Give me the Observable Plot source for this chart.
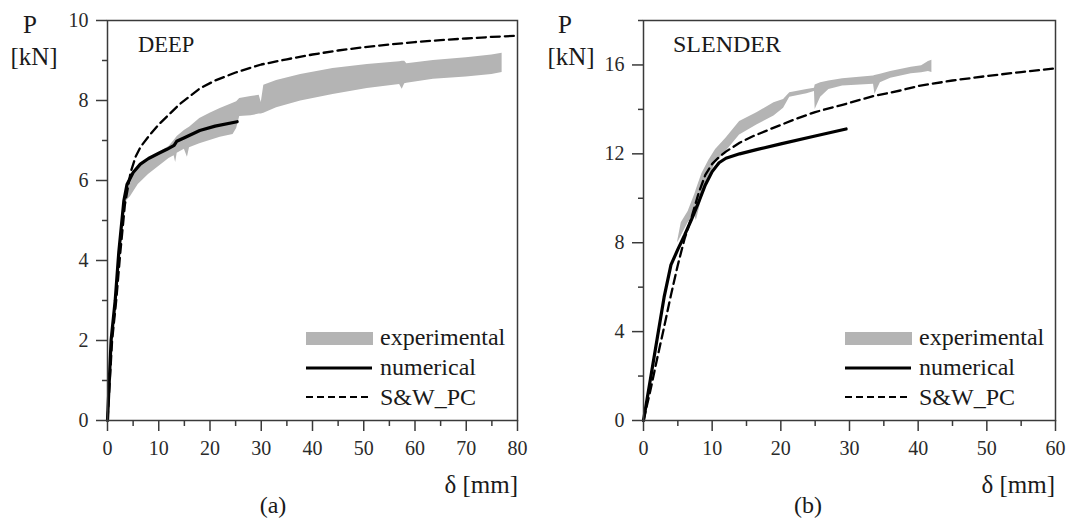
<!DOCTYPE html>
<html>
<head>
<meta charset="utf-8">
<script src="https://cdn.jsdelivr.net/npm/d3@7"></script>
<script src="https://cdn.jsdelivr.net/npm/@observablehq/plot@0.6"></script>
<style>
  html, body { margin: 0; padding: 0; background: #fff; }
  #wrap { position: relative; width: 1071px; height: 522px; overflow: hidden; }
  #wrap > .p { position: absolute; top: 0; }
  #overlay { position: absolute; left: 0; top: 0; pointer-events: none; }
</style>
</head>
<body>
<div id="wrap"></div>
<script>
// ---------- DATA ----------
// Panel (a) DEEP
const deepExpX  = [0, 0.7, 1.5, 2.2, 3.2, 3.8, 4.5, 6, 8, 10, 12, 13, 13.3, 13.6, 15, 15.6, 16, 18, 20, 22, 24.5, 25.2, 25.8, 28, 29.6, 30, 30.5, 33, 37.7, 44, 50.7, 57, 57.5, 58, 58.4, 63.6, 70, 75, 77];
const deepExpLo = [0, 1.9, 2.9, 4.1, 5.35, 5.5, 5.6, 5.9, 6.15, 6.35, 6.55, 6.62, 6.45, 6.68, 6.78, 6.58, 6.82, 6.92, 7.0, 7.08, 7.15, 7.3, 7.6, 7.62, 7.66, 7.66, 7.68, 7.82, 7.99, 8.15, 8.3, 8.4, 8.28, 8.42, 8.43, 8.53, 8.59, 8.65, 8.7];
const deepExpHi = [0, 2.05, 3.1, 4.3, 5.55, 5.9, 6.1, 6.35, 6.52, 6.7, 6.85, 7.0, 7.05, 7.1, 7.25, 7.3, 7.33, 7.55, 7.68, 7.8, 7.93, 7.97, 8.05, 8.1, 8.13, 7.95, 8.38, 8.5, 8.65, 8.8, 8.9, 8.97, 8.98, 8.98, 8.92, 9.0, 9.07, 9.14, 9.18];
const deepNumX  = [0, 0.7, 1.5, 2.2, 3.2, 3.8, 5, 6.4, 8, 10, 11.6, 13, 13.5, 15, 18, 21, 25.3];
const deepNumP  = [0, 2.0, 3.0, 4.2, 5.5, 5.9, 6.2, 6.41, 6.55, 6.68, 6.78, 6.88, 6.98, 7.07, 7.25, 7.36, 7.47];
const deepSwX   = [0, 0.9, 1.7, 2.5, 3.4, 4.5, 5.5, 6.5, 8, 10, 12, 14, 16, 18, 21, 25, 30, 35, 40, 45, 50, 55, 60, 65, 70, 75, 80];
const deepSwP   = [0, 2.0, 3.0, 4.2, 5.4, 6.2, 6.6, 6.85, 7.1, 7.4, 7.65, 7.9, 8.1, 8.3, 8.5, 8.7, 8.9, 9.03, 9.15, 9.25, 9.33, 9.4, 9.46, 9.51, 9.55, 9.59, 9.62];

// Panel (b) SLENDER
const slenExpX  = [5.0, 5.5, 6.5, 7.5, 7.7, 8.5, 9.5, 10.5, 12, 14, 16.5, 19, 20.4, 21.3, 23.8, 24.9, 25.0, 25.8, 27, 29, 33.5, 33.7, 34.5, 36, 39, 40.5, 41.5, 42];
const slenExpLo = [8.0, 8.3, 8.9, 9.2, 9.0, 10.0, 10.9, 11.6, 12.1, 12.85, 13.3, 13.7, 14.05, 14.55, 14.7, 14.8, 14.0, 14.55, 14.9, 15.05, 15.13, 14.68, 15.2, 15.4, 15.6, 15.65, 15.7, 15.66];
const slenExpHi = [8.1, 8.9, 9.4, 10.2, 10.4, 11.1, 11.7, 12.2, 12.7, 13.45, 13.85, 14.3, 14.45, 14.75, 14.9, 14.95, 15.1, 15.2, 15.28, 15.38, 15.5, 15.52, 15.58, 15.7, 15.9, 15.96, 16.15, 16.21];
const slenNumX  = [0, 1, 2, 3, 4, 5, 6, 7, 8, 9, 10, 11, 12, 14, 16.6, 20, 25, 29.5];
const slenNumP  = [0, 1.85, 3.7, 5.55, 7.0, 7.7, 8.35, 9.05, 9.8, 10.6, 11.2, 11.6, 11.8, 12.0, 12.2, 12.45, 12.8, 13.12];
const slenSwX   = [0, 1, 2, 3, 4, 5, 6, 7, 8, 9, 10, 11, 12, 14, 16, 19, 22, 25, 28.7, 33.5, 37.4, 40, 45, 50, 55, 60];
const slenSwP   = [0, 1.35, 2.8, 4.2, 5.65, 7.0, 8.2, 9.15, 10.2, 11.05, 11.55, 11.85, 12.1, 12.5, 12.8, 13.18, 13.55, 13.88, 14.18, 14.6, 14.85, 15.05, 15.3, 15.5, 15.68, 15.85];

// Axis ticks
const deepXMajor = [0, 10, 20, 30, 40, 50, 60, 70, 80];
const deepXMinor = [5, 15, 25, 35, 45, 55, 65, 75];
const deepYMajor = [0, 2, 4, 6, 8, 10];
const deepYMinor = [1, 3, 5, 7, 9];
const slenXMajor = [0, 10, 20, 30, 40, 50, 60];
const slenXMinor = [5, 15, 25, 35, 45, 55];
const slenYMajor = [0, 4, 8, 12, 16];
const slenYMinor = [2, 6, 10, 14, 18];

// Texts
const panelTitles = ["DEEP", "SLENDER"];
const panelTags = ["(a)", "(b)"];
const legendLabels = ["experimental", "numerical", "S&W_PC"];
const yLabel = ["P", "[kN]"];
const xLabel = "δ [mm]";

// ---------- BUILD ----------
const zip2 = (xs, ps) => xs.map((x, i) => ({x, p: ps[i]}));
const zip3 = (xs, lo, hi) => xs.map((x, i) => ({x, lo: lo[i], hi: hi[i]}));

const AX = "#3a3a3a";
const FONT = "'Liberation Serif', 'Times New Roman', serif";

function panel(cfg) {
  return Plot.plot({
    width: cfg.width, height: 522,
    marginLeft: cfg.marginLeft, marginRight: cfg.marginRight,
    marginTop: 20, marginBottom: 102,
    x: {domain: cfg.xDomain},
    y: {domain: cfg.yDomain},
    style: {fontFamily: FONT, fontSize: "20px", color: "#2a2a2a", background: "transparent", overflow: "visible"},
    marks: [
      Plot.areaY(cfg.exp, {x: "x", y1: "lo", y2: "hi", fill: "#b4b4b4"}),
      Plot.line(cfg.num, {x: "x", y: "p", stroke: "#000", strokeWidth: 3.2, strokeLinejoin: "round", strokeLinecap: "round"}),
      Plot.line(cfg.sw, {x: "x", y: "p", stroke: "#000", strokeWidth: 2.3, strokeDasharray: "9,5"}),
      Plot.frame({stroke: AX, strokeWidth: 1.5}),
      Plot.axisX({ticks: cfg.xMajor, tickSize: 11, tickPadding: 9, label: null, stroke: AX, strokeWidth: 1.5, tickFormat: d => String(d)}),
      Plot.axisX({ticks: cfg.xMinor, tickSize: 6, text: null, label: null, stroke: AX, strokeWidth: 1.5}),
      Plot.axisY({ticks: cfg.yMajor, tickSize: 11, tickPadding: 8, label: null, stroke: AX, strokeWidth: 1.5, tickFormat: d => String(d)}),
      Plot.axisY({ticks: cfg.yMinor, tickSize: 5, text: null, label: null, stroke: AX, strokeWidth: 1.5})
    ]
  });
}

const wrap = document.getElementById("wrap");

const left = panel({
  width: 540, marginLeft: 107, marginRight: 23,
  xDomain: [0, 80], yDomain: [0, 10],
  xMajor: deepXMajor, xMinor: deepXMinor, yMajor: deepYMajor, yMinor: deepYMinor,
  exp: zip3(deepExpX, deepExpLo, deepExpHi), num: zip2(deepNumX, deepNumP), sw: zip2(deepSwX, deepSwP)
});
left.classList.add("p"); left.style.left = "0px";
wrap.appendChild(left);

const right = panel({
  width: 531, marginLeft: 103, marginRight: 16,
  xDomain: [0, 60], yDomain: [0, 18],
  xMajor: slenXMajor, xMinor: slenXMinor, yMajor: slenYMajor, yMinor: slenYMinor,
  exp: zip3(slenExpX, slenExpLo, slenExpHi), num: zip2(slenNumX, slenNumP), sw: zip2(slenSwX, slenSwP)
});
right.classList.add("p"); right.style.left = "540px";
wrap.appendChild(right);

// ---------- TEXT + LEGEND OVERLAY ----------
const svg = d3.select(wrap).append("svg").attr("id", "overlay")
  .attr("width", 1071).attr("height", 522)
  .style("font-family", FONT).attr("fill", "#1a1a1a");

const panels = [
  {pCx: 30, kCx: 34, titleX: 138, titleSize: 22.5, xLabRight: 518, tagCx: 273, legX: 306},
  {pCx: 565, kCx: 571, titleX: 673, titleSize: 24, xLabRight: 1055, tagCx: 808, legX: 845}
];

panels.forEach((p, i) => {
  svg.append("text").attr("x", p.pCx).attr("y", 33).attr("text-anchor", "middle").attr("font-size", 25).text(yLabel[0]);
  svg.append("text").attr("x", p.kCx).attr("y", 65).attr("text-anchor", "middle").attr("font-size", 25).text(yLabel[1]);
  svg.append("text").attr("x", p.titleX).attr("y", 52).attr("font-size", p.titleSize).text(panelTitles[i]);
  svg.append("text").attr("x", p.xLabRight).attr("y", 493).attr("text-anchor", "end").attr("font-size", 25).text(xLabel);
  svg.append("text").attr("x", p.tagCx).attr("y", 513).attr("text-anchor", "middle").attr("font-size", 24).text(panelTags[i]);

  const g = svg.append("g").attr("transform", `translate(${p.legX},0)`);
  g.append("rect").attr("x", 0).attr("y", 332).attr("width", 67).attr("height", 13).attr("fill", "#b4b4b4");
  g.append("line").attr("x1", 0).attr("x2", 66).attr("y1", 368).attr("y2", 368).attr("stroke", "#000").attr("stroke-width", 3.2);
  g.append("line").attr("x1", 0).attr("x2", 66).attr("y1", 397).attr("y2", 397).attr("stroke", "#000").attr("stroke-width", 2).attr("stroke-dasharray", "7,4");
  [345, 375, 405].forEach((yb, k) => {
    g.append("text").attr("x", 74).attr("y", yb).attr("font-size", 24).text(legendLabels[k]);
  });
});
</script>
</body>
</html>
